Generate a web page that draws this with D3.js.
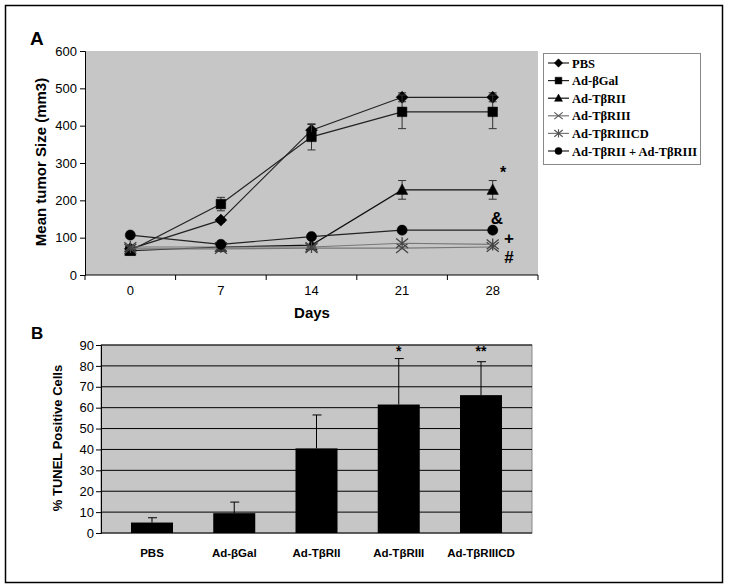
<!DOCTYPE html>
<html>
<head>
<meta charset="utf-8">
<script src="https://cdn.jsdelivr.net/npm/d3@7"></script>
<style>
  body { margin: 0; background: #fff; }
  text { font-family: Arial, "Liberation Sans", sans-serif; }
</style>
</head>
<body>
<div id="chart"></div>
<script>
// ---- panel A data ----
var days = ["0", "7", "14", "21", "28"];
var seriesNames = ["PBS", "Ad-βGal", "Ad-TβRII", "Ad-TβRIII", "Ad-TβRIIICD", "Ad-TβRII + Ad-TβRIII"];
var seriesMarkers = ["diamond", "square", "triangle", "x", "star", "circle"];
var pbsValues = [70, 147, 388, 476, 476];
var galValues = [65, 190, 370, 437, 437];
var tbr2Values = [65, 75, 80, 228, 228];
var tbr3Values = [70, 70, 72, 72, 75];
var tbr3cdValues = [75, 75, 75, 85, 82];
var comboValues = [107, 82, 103, 120, 120];
var pbsErr = [0, 6, 15, 12, 12];
var galErr = [0, 18, 35, 45, 45];
var tbr2Err = [0, 0, 0, 25, 25];
var tbr3Err = [0, 0, 0, 0, 0];
var tbr3cdErr = [0, 0, 0, 0, 0];
var comboErr = [0, 0, 0, 0, 0];
var yTicksA = [0, 100, 200, 300, 400, 500, 600];
var notesA = ["*", "&", "+", "#"];

// ---- panel B data ----
var groupsB = ["PBS", "Ad-βGal", "Ad-TβRII", "Ad-TβRIII", "Ad-TβRIIICD"];
var tunelValues = [5, 9.5, 40.5, 61.5, 66];
var tunelErr = [2.3, 5.3, 16, 22, 16];
var tunelNotes = ["", "", "", "*", "**"];
var yTicksB = [0, 10, 20, 30, 40, 50, 60, 70, 80, 90];

var allValues = [pbsValues, galValues, tbr2Values, tbr3Values, tbr3cdValues, comboValues];
var allErr = [pbsErr, galErr, tbr2Err, tbr3Err, tbr3cdErr, comboErr];
var lineColours = ["#222", "#222", "#111", "#777", "#777", "#222"];

var svg = d3.select("#chart").append("svg")
  .attr("width", 732).attr("height", 587);

svg.append("rect")
  .attr("x", 5.5).attr("y", 5.5).attr("width", 717).attr("height", 577)
  .attr("fill", "#fff").attr("stroke", "#000").attr("stroke-width", 1.5);

function marker(type, s) {
  var p = d3.path();
  if (type == "diamond") {
    p.moveTo(0, -s); p.lineTo(s, 0); p.lineTo(0, s); p.lineTo(-s, 0); p.closePath();
  } else if (type == "square") {
    p.rect(-s * 0.8, -s * 0.8, s * 1.6, s * 1.6);
  } else if (type == "triangle") {
    p.moveTo(0, -s); p.lineTo(s * 0.95, s * 0.75); p.lineTo(-s * 0.95, s * 0.75); p.closePath();
  } else if (type == "circle") {
    p.arc(0, 0, s * 0.85, 0, 2 * Math.PI);
  } else if (type == "x") {
    p.moveTo(-s, -s * 0.8); p.lineTo(s, s * 0.8); p.moveTo(-s, s * 0.8); p.lineTo(s, -s * 0.8);
  } else if (type == "star") {
    p.moveTo(-s, -s * 0.8); p.lineTo(s, s * 0.8); p.moveTo(-s, s * 0.8); p.lineTo(s, -s * 0.8);
    p.moveTo(0, -s); p.lineTo(0, s);
  }
  return p.toString();
}
function isFilled(type) { return type != "x" && type != "star"; }

// ================= Panel A =================
var ax0 = 85, ax1 = 538, ay0 = 51, ay1 = 275;
var xA = d3.scaleBand().domain(days).range([ax0, ax1]);
var yA = d3.scaleLinear().domain([0, 600]).range([ay1, ay0]);
var gA = svg.append("g");

gA.append("rect")
  .attr("x", ax0).attr("y", ay0).attr("width", ax1 - ax0).attr("height", ay1 - ay0)
  .attr("fill", "#c6c6c6");

// axes
gA.append("g")
  .attr("transform", "translate(" + ax0 + ",0)")
  .call(d3.axisLeft(yA).tickValues(yTicksA).tickSize(5).tickPadding(3))
  .call(function(g) {
    g.select(".domain").attr("stroke", "#000");
    g.selectAll("text").attr("font-size", 13).attr("fill", "#000");
  });

var xAx = gA.append("g").attr("transform", "translate(0," + ay1 + ")");
xAx.append("line").attr("x1", ax0).attr("x2", ax1).attr("stroke", "#000");
xAx.selectAll(".tk").data(days.concat(["end"])).enter().append("line")
  .attr("x1", function(d, i) { return i < days.length ? xA(d) : ax1; })
  .attr("x2", function(d, i) { return i < days.length ? xA(d) : ax1; })
  .attr("y1", 0).attr("y2", 5).attr("stroke", "#000");
xAx.selectAll(".lb").data(days).enter().append("text")
  .attr("x", function(d) { return xA(d) + xA.bandwidth() / 2; })
  .attr("y", 20).attr("text-anchor", "middle").attr("font-size", 13)
  .text(function(d) { return d; });

gA.append("text").attr("x", 312).attr("y", 318).attr("text-anchor", "middle")
  .attr("font-size", 15).attr("font-weight", "bold").text("Days");
gA.append("text")
  .attr("transform", "translate(46,162) rotate(-90)").attr("text-anchor", "middle")
  .attr("font-size", 15).attr("font-weight", "bold").text("Mean tumor Size (mm3)");
gA.append("text").attr("x", 30).attr("y", 45)
  .attr("font-size", 19).attr("font-weight", "bold").text("A");

function cx(i) { return xA(days[i]) + xA.bandwidth() / 2; }

var line = d3.line().x(function(d, i) { return cx(i); }).y(function(d) { return yA(d); });

allValues.forEach(function(vals, s) {
  var g = gA.append("g");
  // error bars
  vals.forEach(function(v, i) {
    var e = allErr[s][i];
    if (!e) return;
    g.append("line").attr("x1", cx(i)).attr("x2", cx(i))
      .attr("y1", yA(v - e)).attr("y2", yA(v + e)).attr("stroke", "#333");
    [v - e, v + e].forEach(function(b) {
      g.append("line").attr("x1", cx(i) - 4).attr("x2", cx(i) + 4)
        .attr("y1", yA(b)).attr("y2", yA(b)).attr("stroke", "#333");
    });
  });
  g.append("path").attr("d", line(vals)).attr("fill", "none")
    .attr("stroke", lineColours[s]).attr("stroke-width", 1.2);
  var type = seriesMarkers[s];
  g.selectAll(null).data(vals).enter().append("path")
    .attr("transform", function(d, i) { return "translate(" + cx(i) + "," + yA(d) + ")"; })
    .attr("d", marker(type, 6))
    .attr("fill", isFilled(type) ? "#000" : "none")
    .attr("stroke", isFilled(type) ? "#000" : "#444")
    .attr("stroke-width", isFilled(type) ? 0.5 : 1.3);
});

// significance marks next to day 28
var notePos = [[503, 178, 16], [497, 224, 17], [509, 244, 17], [509, 263, 17]];
gA.selectAll(".note").data(notesA).enter().append("text")
  .attr("x", function(d, i) { return notePos[i][0]; })
  .attr("y", function(d, i) { return notePos[i][1]; })
  .attr("font-size", function(d, i) { return notePos[i][2]; })
  .attr("font-weight", "bold").attr("text-anchor", "middle")
  .text(function(d) { return d; });

// legend
var lg = gA.append("g");
lg.append("rect").attr("x", 543.5).attr("y", 53.5).attr("width", 157).attr("height", 111)
  .attr("fill", "#fff").attr("stroke", "#888");
seriesNames.forEach(function(name, s) {
  var y = 63 + s * 17.6;
  var type = seriesMarkers[s];
  lg.append("line").attr("x1", 548).attr("x2", 569).attr("y1", y).attr("y2", y)
    .attr("stroke", lineColours[s]).attr("stroke-width", 1.2);
  lg.append("path").attr("transform", "translate(558.5," + y + ")")
    .attr("d", marker(type, 4.2))
    .attr("fill", isFilled(type) ? "#000" : "none")
    .attr("stroke", isFilled(type) ? "#000" : "#555")
    .attr("stroke-width", isFilled(type) ? 0.5 : 1.1);
  lg.append("text").attr("x", 572).attr("y", y + 4.5)
    .style("font-family", "'Liberation Serif', 'DejaVu Serif', serif")
    .attr("font-size", 12.5).attr("font-weight", "bold").text(name);
});

// ================= Panel B =================
var bx0 = 101, bx1 = 532, by0 = 345, by1 = 533;
var xB = d3.scalePoint().domain(groupsB).range([bx0, bx1]).padding(0.62);
var yB = d3.scaleLinear().domain([0, 90]).range([by1, by0]);
var gB = svg.append("g");
var barW = 42;

gB.append("rect")
  .attr("x", bx0).attr("y", by0).attr("width", bx1 - bx0).attr("height", by1 - by0)
  .attr("fill", "#c6c6c6").attr("stroke", "#888");

gB.selectAll(".grid").data(yTicksB.slice(1)).enter().append("line")
  .attr("x1", bx0).attr("x2", bx1)
  .attr("y1", function(d) { return yB(d); }).attr("y2", function(d) { return yB(d); })
  .attr("stroke", "#000").attr("stroke-width", 1);

gB.append("g")
  .attr("transform", "translate(" + bx0 + ",0)")
  .call(d3.axisLeft(yB).tickValues(yTicksB).tickSize(5).tickPadding(2))
  .call(function(g) {
    g.select(".domain").attr("stroke", "#000");
    g.selectAll("text").attr("font-size", 13).attr("fill", "#000");
  });
gB.append("line").attr("x1", bx0).attr("x2", bx1).attr("y1", by1).attr("y2", by1).attr("stroke", "#000");

// error bars (upper only)
gB.selectAll(".err").data(groupsB).enter().append("line")
  .attr("x1", function(d) { return xB(d); }).attr("x2", function(d) { return xB(d); })
  .attr("y1", function(d, i) { return yB(tunelValues[i]); })
  .attr("y2", function(d, i) { return yB(tunelValues[i] + tunelErr[i]); })
  .attr("stroke", "#000");
gB.selectAll(".cap").data(groupsB).enter().append("line")
  .attr("x1", function(d) { return xB(d) - 4; }).attr("x2", function(d) { return xB(d) + 5; })
  .attr("y1", function(d, i) { return yB(tunelValues[i] + tunelErr[i]); })
  .attr("y2", function(d, i) { return yB(tunelValues[i] + tunelErr[i]); })
  .attr("stroke", "#000");

gB.selectAll(".bar").data(groupsB).enter().append("rect")
  .attr("x", function(d) { return xB(d) - barW / 2; })
  .attr("width", barW)
  .attr("y", function(d, i) { return yB(tunelValues[i]); })
  .attr("height", function(d, i) { return by1 - yB(tunelValues[i]); })
  .attr("fill", "#000");

gB.selectAll(".note").data(groupsB).enter().append("text")
  .attr("x", function(d) { return xB(d); }).attr("y", 356)
  .attr("text-anchor", "middle").attr("font-size", 14).attr("font-weight", "bold")
  .text(function(d, i) { return tunelNotes[i]; });

gB.selectAll(".lab").data(groupsB).enter().append("text")
  .attr("x", function(d) { return xB(d); }).attr("y", 557)
  .attr("text-anchor", "middle").attr("font-size", 11.5).attr("font-weight", "bold")
  .text(function(d) { return d; });

gB.append("text")
  .attr("transform", "translate(62,438) rotate(-90)").attr("text-anchor", "middle")
  .attr("font-size", 13).attr("font-weight", "bold").text("% TUNEL Positive Cells");
gB.append("text").attr("x", 31).attr("y", 339)
  .attr("font-size", 17).attr("font-weight", "bold").text("B");
</script>
</body>
</html>
